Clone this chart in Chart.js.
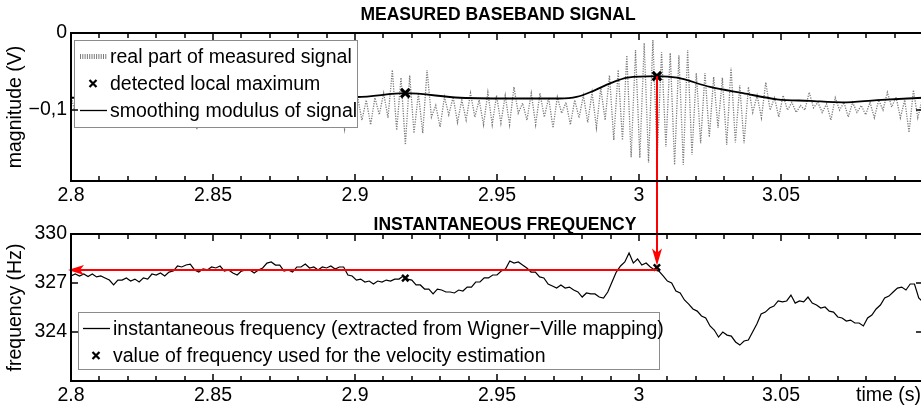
<!DOCTYPE html>
<html>
<head>
<meta charset="utf-8">
<script src="https://cdn.jsdelivr.net/npm/chart.js@4.4.1/dist/chart.umd.min.js"></script>
<style>
    html, body { margin: 0; padding: 0; background: #fff; overflow: hidden; }
    #lienzo { position: relative; width: 921px; height: 411px; overflow: hidden; }
    canvas { position: absolute; left: 0; }
    #graficoSenal { top: 0; }
    #graficoFrec { top: 205px; }
</style>
</head>
<body>
<div id="lienzo">
    <canvas id="graficoSenal" width="923" height="205"></canvas>
    <canvas id="graficoFrec" width="923" height="206"></canvas>
</div>
<script>
// ---------------------------------------------------------
// DATOS
// ---------------------------------------------------------

// Señal en banda base: un pico y un valle por ciclo (~327 Hz)
const T0_SENAL = 2.8;
const PERIODO_SENAL = 0.003058;
const senalAlta = [
    -0.081, -0.084, -0.082, -0.087, -0.079, -0.083, -0.086, -0.081, -0.078, -0.084,
    -0.082, -0.087, -0.083, -0.081, -0.079, -0.077, -0.084, -0.082, -0.086, -0.081,
    -0.083, -0.087, -0.082, -0.079, -0.084, -0.083, -0.081, -0.086, -0.082, -0.078,
    -0.083, -0.081, -0.084,
    -0.083, -0.087, -0.084, -0.078, -0.048, -0.058, -0.055, -0.078, -0.048, -0.094,
    -0.083, -0.083, -0.087, -0.078, -0.087, -0.077, -0.081, -0.081, -0.070, -0.091,
    -0.078, -0.078, -0.084, -0.083, -0.090, -0.087, -0.081, -0.077, -0.071, -0.055,
    -0.048, -0.029, -0.022, -0.013, -0.009, -0.025, -0.026, -0.029, -0.022, -0.052,
    -0.052, -0.057, -0.058, -0.045, -0.068, -0.070, -0.081, -0.064, -0.084, -0.081,
    -0.090, -0.094, -0.077, -0.090, -0.092, -0.084, -0.090, -0.090, -0.094, -0.090,
    -0.087, -0.077, -0.083, -0.087, -0.074, -0.087
];
const senalBaja = [
    -0.106, -0.110, -0.108, -0.113, -0.109, -0.105, -0.112, -0.108, -0.110, -0.114,
    -0.109, -0.106, -0.112, -0.113, -0.125, -0.110, -0.108, -0.113, -0.109, -0.106,
    -0.112, -0.114, -0.110, -0.108, -0.113, -0.109, -0.112, -0.114, -0.110, -0.113,
    -0.116, -0.125, -0.112,
    -0.113, -0.119, -0.106, -0.110, -0.126, -0.145, -0.130, -0.130, -0.109, -0.122,
    -0.106, -0.116, -0.113, -0.109, -0.119, -0.119, -0.117, -0.119, -0.104, -0.113,
    -0.119, -0.109, -0.123, -0.104, -0.119, -0.110, -0.116, -0.123, -0.113, -0.139,
    -0.139, -0.161, -0.162, -0.168, -0.161, -0.148, -0.171, -0.171, -0.158, -0.143,
    -0.135, -0.123, -0.145, -0.142, -0.143, -0.103, -0.110, -0.100, -0.109, -0.100,
    -0.103, -0.100, -0.097, -0.103, -0.113, -0.100, -0.109, -0.103, -0.106, -0.110,
    -0.100, -0.096, -0.110, -0.129, -0.110, -0.117
];

// Módulo suavizado de la señal
const moduloT = [2.8, 2.83, 2.86, 2.885, 2.9007, 2.9177, 2.937, 2.958, 2.972, 2.978, 2.984,
                 2.990, 2.996, 3.0063, 3.0134, 3.025, 3.0366, 3.0486, 3.060, 3.0718, 3.0838, 3.1];
const moduloV = [-0.084, -0.083, -0.083, -0.083, -0.083, -0.078, -0.084, -0.085, -0.085, -0.083, -0.075,
                 -0.065, -0.058, -0.056, -0.058, -0.070, -0.078, -0.086, -0.088, -0.090, -0.087, -0.084];

// Máximos locales detectados
const maximosT = [2.9177, 3.0063];
const maximosV = [-0.078, -0.056];

// Frecuencia instantánea (Wigner-Ville), muestreada cada 1.5 ms
const T0_FREC = 2.8;
const PASO_FREC = 0.0015;
const frecuencia = [
    327.43, 327.55, 327.43, 327.55, 327.40, 327.55, 327.37, 327.43, 327.31, 327.18,
    326.88, 327.18, 327.18, 327.31, 327.12, 327.24, 327.06, 327.31, 327.24, 327.55,
    327.49, 327.61, 327.43, 327.67, 327.73, 328.04, 327.98, 328.10, 328.16, 327.80,
    327.67, 327.86, 327.80, 327.98, 327.92, 328.04, 327.73, 327.80, 327.61, 327.49,
    327.73, 327.80, 327.80, 327.61, 327.80, 327.92, 328.22, 328.29, 328.10, 328.10,
    327.73, 327.80, 327.67, 327.98, 327.98, 328.16, 327.92, 327.98, 327.80, 327.98,
    327.92, 328.04, 327.86, 327.98, 327.98, 327.49, 327.43, 327.18, 327.24, 327.06,
    327.12, 326.94, 327.12, 327.06, 327.18, 327.12, 327.24, 327.24, 327.43, 327.24,
    327.18, 326.88, 326.88, 326.63, 326.63, 326.33, 326.63, 326.57, 326.45, 326.45,
    326.39, 326.57, 326.51, 326.75, 326.75, 327.06, 327.06, 327.31, 327.31, 327.49,
    327.49, 327.73, 327.86, 328.35, 328.22, 328.29, 328.10, 327.92, 327.67, 327.67,
    327.37, 327.31, 326.94, 326.82, 326.69, 326.88, 326.69, 326.75, 326.57, 326.45,
    326.14, 326.39, 326.33, 326.33, 326.14, 326.08, 326.45, 327.06, 327.67, 328.04,
    328.29, 328.84, 328.22, 328.47, 328.10, 328.22, 327.98, 327.80, 327.73, 327.43,
    327.12, 327.00, 326.51, 326.39, 325.96, 325.71, 325.41, 325.28, 324.98, 324.86,
    324.37, 324.12, 323.69, 324.00, 323.81, 323.75, 323.39, 323.20, 323.45, 323.51,
    324.00, 324.49, 325.10, 325.22, 325.47, 325.59, 325.90, 325.84, 325.90, 326.26,
    325.77, 325.90, 325.84, 326.14, 325.77, 325.65, 325.47, 325.53, 325.28, 325.22,
    324.92, 324.86, 324.67, 324.73, 324.55, 324.55, 324.37, 324.86, 325.04, 325.41,
    325.65, 326.08, 326.20, 326.45, 326.69, 326.75, 326.57, 326.94, 326.94, 326.08,
    325.84
];

// Frecuencias usadas para la estimación de velocidad
const usadasT = [2.9177, 3.0063];
const usadasF = [327.30, 327.95];

// Frecuencia estimada (flecha roja horizontal)
const frecEstimada = 327.8;

// Ejes
const ticksX = [2.8, 2.85, 2.9, 2.95, 3, 3.05];
const etiquetasX = ['2.8', '2.85', '2.9', '2.95', '3', '3.05'];
const ticksYSenal = [-0.1, 0];
const etiquetasYSenal = ['\u22120,1', '0'];
const ticksYFrec = [324, 327, 330];
const etiquetasYFrec = ['324', '327', '330'];

// ---------------------------------------------------------
// ESTILO COMÚN
// ---------------------------------------------------------
const FUENTE = "'Liberation Sans', Arial, Helvetica, sans-serif";
const TAM = 19.5;
Chart.defaults.font.family = FUENTE;
Chart.defaults.font.size = TAM;
Chart.defaults.color = '#000';

const puntosSenal = [];
senalAlta.forEach((v, k) => {
    puntosSenal.push({ x: T0_SENAL + k * PERIODO_SENAL, y: v });
    puntosSenal.push({ x: T0_SENAL + (k + 0.5) * PERIODO_SENAL, y: senalBaja[k] });
});
const puntosModulo = moduloT.map((t, i) => ({ x: t, y: moduloV[i] }));
const puntosMaximos = maximosT.map((t, i) => ({ x: t, y: maximosV[i] }));
const puntosFrec = frecuencia.map((f, i) => ({ x: T0_FREC + i * PASO_FREC, y: f }));
const puntosUsados = usadasT.map((t, i) => ({ x: t, y: usadasF[i] }));

function ejeX(alto) {
    return {
        type: 'linear', min: 2.8, max: 3.1,
        grid: { display: false, drawTicks: false }, border: { display: false },
        afterBuildTicks: s => { s.ticks = ticksX.map(v => ({ value: v })); },
        afterFit: s => { s.height = alto; },
        ticks: { callback: (v, i) => etiquetasX[i], padding: 3, autoSkip: false, maxRotation: 0 }
    };
}

function ejeY(min, max, valores, etiquetas, titulo) {
    return {
        type: 'linear', min: min, max: max,
        grid: { display: false, drawTicks: false }, border: { display: false },
        afterBuildTicks: s => { s.ticks = valores.map(v => ({ value: v })); },
        afterFit: s => { s.width = 71; },
        ticks: { callback: (v, i) => etiquetas[i], padding: 4 },
        title: { display: true, text: titulo, padding: { top: 4, bottom: 0 } }
    };
}

function flecha(ctx, x1, y1, x2, y2, largo, ancho) {
    const ang = Math.atan2(y2 - y1, x2 - x1);
    ctx.beginPath();
    ctx.moveTo(x1, y1);
    ctx.lineTo(x2 - Math.cos(ang) * largo * 0.6, y2 - Math.sin(ang) * largo * 0.6);
    ctx.stroke();
    ctx.beginPath();
    ctx.moveTo(x2, y2);
    ctx.lineTo(x2 - Math.cos(ang) * largo - Math.sin(ang) * ancho, y2 - Math.sin(ang) * largo + Math.cos(ang) * ancho);
    ctx.lineTo(x2 - Math.cos(ang) * largo * 0.75, y2 - Math.sin(ang) * largo * 0.75);
    ctx.lineTo(x2 - Math.cos(ang) * largo + Math.sin(ang) * ancho, y2 - Math.sin(ang) * largo - Math.cos(ang) * ancho);
    ctx.closePath();
    ctx.fill();
}

// Marco estilo MATLAB, leyenda, flechas rojas y títulos
const estiloMatlab = {
    id: 'estiloMatlab',
    afterDatasetsDraw(chart, args, op) {
        const { ctx, chartArea: a, scales: { x, y } } = chart;
        ctx.save();

        // --- Flechas rojas ---
        ctx.strokeStyle = '#ff0000';
        ctx.fillStyle = '#ff0000';
        ctx.lineWidth = 2;
        const xe = Math.round(x.getPixelForValue(maximosT[1]));
        if (op.panel === 'senal') {
            ctx.beginPath();
            ctx.moveTo(xe, y.getPixelForValue(maximosV[1]));
            ctx.lineTo(xe, chart.height);
            ctx.stroke();
        } else {
            flecha(ctx, xe, 0, xe, y.getPixelForValue(usadasF[1]) - 2, 17, 5);
            const ye = y.getPixelForValue(frecEstimada);
            flecha(ctx, xe, ye, x.getPixelForValue(2.8) - 3, ye, 16, 5);
        }

        // --- Leyenda ---
        const L = op.leyenda;
        const bx = a.left + L.dx, by = a.top + L.dy;
        ctx.fillStyle = '#fff';
        ctx.fillRect(bx, by, L.w, L.h);
        ctx.strokeStyle = '#8c8c8c';
        ctx.lineWidth = 1;
        ctx.strokeRect(bx + 0.5, by + 0.5, L.w, L.h);
        ctx.font = TAM + 'px ' + FUENTE;
        ctx.textBaseline = 'middle';
        ctx.textAlign = 'left';
        chart.data.datasets.forEach((d, i) => {
            const fy = by + 16.5 + i * 27;
            ctx.strokeStyle = '#000';
            ctx.setLineDash([]);
            if (d.pointStyle === 'crossRot') {
                ctx.lineWidth = 2.2;
                const cx = bx + L.simbolo + 13, r = 3.5;
                ctx.beginPath();
                ctx.moveTo(cx - r, fy - r); ctx.lineTo(cx + r, fy + r);
                ctx.moveTo(cx + r, fy - r); ctx.lineTo(cx - r, fy + r);
                ctx.stroke();
            } else {
                ctx.strokeStyle = d.borderColor;
                ctx.lineWidth = d.borderDash ? 5 : 1.3;
                if (d.borderDash) ctx.setLineDash([1, 1.3]);
                ctx.beginPath();
                ctx.moveTo(bx + L.simbolo, fy);
                ctx.lineTo(bx + L.simbolo + 27, fy);
                ctx.stroke();
                ctx.setLineDash([]);
            }
            ctx.fillStyle = '#000';
            ctx.fillText(d.label, bx + L.texto, fy + 1);
        });

        // --- Marco y marcas hacia dentro ---
        ctx.strokeStyle = '#000';
        ctx.lineWidth = 2;
        ctx.strokeRect(a.left, a.top, a.right - a.left, a.bottom - a.top);
        ctx.lineWidth = 1.5;
        ctx.beginPath();
        for (let i = 0; i <= 30; i++) {
            const px = Math.round(x.getPixelForValue(2.8 + i * 0.01));
            const lg = i % 5 === 0 ? 7 : 5;
            ctx.moveTo(px, a.top); ctx.lineTo(px, a.top + lg);
            ctx.moveTo(px, a.bottom); ctx.lineTo(px, a.bottom - lg);
        }
        y.ticks.forEach(t => {
            const py = Math.round(y.getPixelForValue(t.value));
            ctx.moveTo(a.left, py); ctx.lineTo(a.left + 7, py);
            ctx.moveTo(a.right, py); ctx.lineTo(a.right - 7, py);
        });
        ctx.stroke();
        ctx.restore();
    },
    afterDraw(chart, args, op) {
        const { ctx, chartArea: a } = chart;
        ctx.save();
        ctx.fillStyle = '#000';
        ctx.textBaseline = 'middle';
        ctx.textAlign = 'center';
        ctx.font = 'bold 17.5px ' + FUENTE;
        ctx.fillText(op.titulo, (a.left + a.right) / 2 + op.tituloDx, op.tituloY);
        if (op.textoEje) {
            ctx.font = TAM + 'px ' + FUENTE;
            ctx.textAlign = 'right';
            ctx.fillText(op.textoEje, 921, a.bottom + 14.5);
        }
        ctx.restore();
    }
};

// --- Gráfico 1: señal en banda base ---
new Chart(document.getElementById('graficoSenal'), {
    type: 'line',
    data: {
        datasets: [{
            label: 'real part of measured signal',
            data: puntosSenal,
            borderColor: '#7a7a7a',
            borderWidth: 1.3,
            borderDash: [1.2, 1.3],
            pointRadius: 0,
            tension: 0,
            order: 3
        }, {
            label: 'detected local maximum',
            data: puntosMaximos,
            showLine: false,
            pointStyle: 'crossRot',
            pointRadius: 6,
            borderColor: '#000',
            borderWidth: 3,
            order: 1
        }, {
            label: 'smoothing modulus of signal',
            data: puntosModulo,
            borderColor: '#000',
            borderWidth: 1.8,
            pointRadius: 0,
            cubicInterpolationMode: 'monotone',
            order: 2
        }]
    },
    options: {
        responsive: false,
        animation: false,
        layout: { autoPadding: false, padding: { top: 33, left: 0, right: 0, bottom: 0 } },
        plugins: {
            legend: { display: false },
            tooltip: { enabled: false },
            estiloMatlab: {
                panel: 'senal',
                titulo: 'MEASURED BASEBAND SIGNAL',
                tituloDx: 1, tituloY: 15,
                leyenda: { dx: 3, dy: 7, w: 283, h: 87, simbolo: 6, texto: 36 }
            }
        },
        scales: {
            x: ejeX(24),
            y: ejeY(-0.192, 0, ticksYSenal, etiquetasYSenal, 'magnitude (V)')
        }
    },
    plugins: [estiloMatlab]
});

// --- Gráfico 2: frecuencia instantánea ---
new Chart(document.getElementById('graficoFrec'), {
    type: 'line',
    data: {
        datasets: [{
            label: 'instantaneous frequency (extracted from Wigner\u2212Ville mapping)',
            data: puntosFrec,
            borderColor: '#000',
            borderWidth: 1.2,
            pointRadius: 0,
            tension: 0,
            order: 2
        }, {
            label: 'value of frequency used for the velocity estimation',
            data: puntosUsados,
            showLine: false,
            pointStyle: 'crossRot',
            pointRadius: 4.5,
            borderColor: '#000',
            borderWidth: 2.4,
            order: 1
        }]
    },
    options: {
        responsive: false,
        animation: false,
        layout: { autoPadding: false, padding: { top: 29, left: 0, right: 0, bottom: 0 } },
        plugins: {
            legend: { display: false },
            tooltip: { enabled: false },
            estiloMatlab: {
                panel: 'frec',
                titulo: 'INSTANTANEOUS FREQUENCY',
                tituloDx: 8, tituloY: 20,
                textoEje: 'time (s)',
                leyenda: { dx: 7, dy: 78, w: 581, h: 57, simbolo: 5, texto: 35 }
            }
        },
        scales: {
            x: ejeX(30),
            y: ejeY(321, 330, ticksYFrec, etiquetasYFrec, 'frequency (Hz)')
        }
    },
    plugins: [estiloMatlab]
});
</script>
</body>
</html>
